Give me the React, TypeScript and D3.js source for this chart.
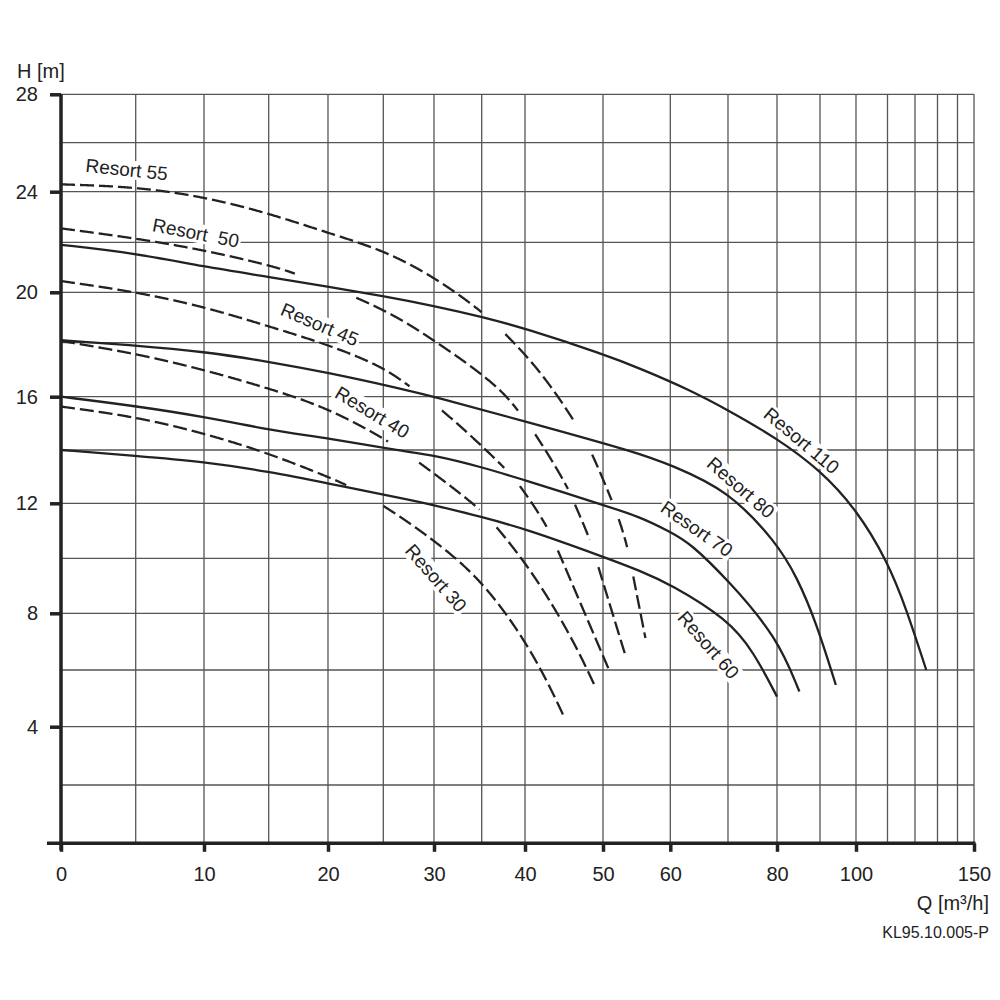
import React, { useRef, useEffect } from 'react';
import * as d3 from 'd3';

type Pt = [number, number];
type Range = [number, number];

// chart paper
const qGrid = [0, 5, 10, 15, 20, 25, 30, 35, 40, 50, 60, 70, 80, 90, 100, 110, 120, 130, 140, 150];
const qTicks = [0, 10, 20, 30, 40, 50, 60, 80, 100, 150];
const hGrid = [0, 2, 4, 6, 8, 10, 12, 14, 16, 18, 20, 22, 24, 26, 28];
const hTicks = [4, 8, 12, 16, 20, 24, 28];

// solid curves [Q m3/h, H m]
const resort110: Pt[] = [[0, 21.9], [5, 21.56], [10, 21.02], [15, 20.62], [20, 20.22], [25, 19.85], [30, 19.46], [35, 19.03], [40, 18.57], [50, 17.58], [55.5, 17.05], [63.4, 16.25], [70, 15.5], [80, 14.44], [90, 13.25], [100, 11.8], [110, 9.9], [117, 8.12], [125, 6.0]];
const resort80: Pt[] = [[0, 18.1], [5, 17.9], [10, 17.67], [15, 17.3], [20, 16.89], [26.6, 16.31], [30, 16.0], [39.4, 15.13], [55.5, 13.88], [60, 13.44], [70, 12.5], [80, 10.55], [84.6, 9.33], [89.2, 7.65], [94.4, 5.47]];
const resort70: Pt[] = [[0, 16.0], [5, 15.65], [10, 15.25], [15, 14.75], [20, 14.44], [26.6, 13.97], [30, 13.81], [35, 13.36], [40, 12.87], [50, 11.94], [55.5, 11.51], [60, 10.96], [63.4, 10.56], [70, 9.21], [80, 7.17], [85.2, 5.24]];
const resort60: Pt[] = [[0, 14.0], [5, 13.78], [10, 13.56], [15, 13.19], [20, 12.75], [26.6, 12.2], [30, 11.94], [35, 11.5], [40, 11.08], [50, 10.06], [55.5, 9.55], [60, 9.06], [70, 7.78], [75.2, 6.65], [80, 5.06]];

// dashed curves, with the Q ranges where the dashes are drawn (broken where they cross solid curves)
const resort55: Pt[] = [[0, 24.3], [5, 24.2], [10, 23.8], [15, 23.15], [20, 22.37], [25, 21.69], [30, 20.62], [35, 19.26], [37.7, 18.37], [41.9, 16.99], [46.5, 15.04], [48.6, 13.89], [51.3, 12.12], [52.3, 11.47], [53.6, 10.48], [54.5, 9.33], [56.3, 7.13]];
const resort55Visible: Range[] = [[0, 35], [37.7, 46.5], [48.6, 51.3], [52.3, 53.6], [54.5, 56.3]];
const resort50: Pt[] = [[0, 22.55], [5, 22.16], [10, 21.69], [15, 21.09], [17.25, 20.76], [22.5, 19.83], [26.65, 18.97], [29.93, 18.1], [33.5, 17.24], [37.3, 16.24], [39.2, 15.48], [41.3, 14.64], [45.5, 12.62], [46.4, 11.94], [48.3, 10.74], [49.4, 9.68], [53.4, 6.46]];
const resort50Visible: Range[] = [[0, 17.25], [22.5, 39.2], [41.3, 45.5], [46.4, 48.3], [49.4, 53.4]];
const resort45: Pt[] = [[0, 20.45], [5, 20.02], [10, 19.43], [15, 18.65], [20, 17.93], [25, 17.11], [27.6, 16.37], [30.8, 15.56], [37.6, 13.37], [39.4, 12.69], [42.8, 11.21], [44.2, 10.3], [50.9, 6.0]];
const resort45Visible: Range[] = [[0, 27.6], [30.8, 37.6], [39.4, 42.8], [44.2, 50.9]];
const resort40: Pt[] = [[0, 18.07], [5, 17.6], [10, 17.0], [15, 16.31], [20, 15.58], [25.5, 14.35], [28.5, 13.55], [34.8, 11.83], [36.7, 11.15], [39.8, 9.94], [43.2, 8.48], [46.6, 6.82], [49.0, 5.41]];
const resort40Visible: Range[] = [[0, 25.5], [28.5, 34.8], [36.7, 49.0]];
const resort30: Pt[] = [[0, 15.63], [5, 15.25], [10, 14.63], [15, 13.88], [20, 12.99], [21.7, 12.69], [25, 11.94], [30, 10.67], [35, 9.22], [40, 7.06], [43.2, 5.41], [44.9, 4.41]];
const resort30Visible: Range[] = [[0, 21.7], [25, 44.9]];

const solidCurves = [resort110, resort80, resort70, resort60];
const dashedCurves = [
  { points: resort55, visible: resort55Visible },
  { points: resort50, visible: resort50Visible },
  { points: resort45, visible: resort45Visible },
  { points: resort40, visible: resort40Visible },
  { points: resort30, visible: resort30Visible },
];

// curve names and where they sit (in Q, H)
const curveLabels = [
  { text: 'Resort 55', q: 4.4, h: 24.9 },
  { text: 'Resort  50', q: 9.4, h: 22.37 },
  { text: 'Resort 45', q: 19.3, h: 18.72 },
  { text: 'Resort 40', q: 24.0, h: 15.41 },
  { text: 'Resort 30', q: 30.2, h: 9.28 },
  { text: 'Resort 110', q: 85.7, h: 14.35 },
  { text: 'Resort 80', q: 72.6, h: 12.59 },
  { text: 'Resort 70', q: 64.6, h: 11.07 },
  { text: 'Resort 60', q: 66.6, h: 6.88 },
];

const FONT = "'Liberation Sans', Arial, sans-serif";
const INK = '#222';

// the paper is non-linear: pixel positions of the grid lines, measured
const qPaper = [61, 135.7, 204, 268.7, 328, 383.3, 434, 481.7, 525, 603, 670.3, 728, 777, 820, 856, 887.5, 915, 937.5, 957.5, 974];
const hPaper = [843.3, 785, 726.7, 670, 613.3, 558.3, 503.3, 450, 396.7, 342.7, 292.3, 242.3, 191.7, 142.7, 94.3];
const labelAngle: Record<string, number> = {
  'Resort 55': 6, 'Resort  50': 11, 'Resort 45': 23, 'Resort 40': 31, 'Resort 30': 49,
  'Resort 110': 40, 'Resort 80': 41, 'Resort 70': 35, 'Resort 60': 49,
};

const PumpChart: React.FC = () => {
  const svgRef = useRef<SVGSVGElement | null>(null);

  useEffect(() => {
    if (!svgRef.current) return;
    const svg = d3.select(svgRef.current);
    svg.selectAll('*').remove();

    const x = d3.scaleLinear().domain(qGrid).range(qPaper);
    const y = d3.scaleLinear().domain(hGrid).range(hPaper);
    const left = x(0), right = x(150), bottom = y(0), top = y(28);

    // grid
    const grid = svg.append('g').attr('stroke', '#555').attr('stroke-width', 1.3);
    grid.selectAll('.vx').data(qGrid).join('line').attr('class', 'vx')
      .attr('x1', d => x(d)).attr('x2', d => x(d)).attr('y1', top).attr('y2', bottom);
    grid.selectAll('.hy').data(hGrid).join('line').attr('class', 'hy')
      .attr('x1', left).attr('x2', right).attr('y1', d => y(d)).attr('y2', d => y(d));

    // curve labels, on a white patch that hides the grid
    const labelG = svg.append('g');
    curveLabels.forEach(l => {
      const g = labelG.append('g')
        .attr('transform', `translate(${x(l.q)},${y(l.h)}) rotate(${labelAngle[l.text]})`);
      const t = g.append('text')
        .attr('text-anchor', 'middle')
        .attr('dominant-baseline', 'central')
        .attr('font-family', FONT)
        .attr('font-size', 19)
        .attr('fill', INK)
        .style('white-space', 'pre')
        .text(l.text);
      const b = (t.node() as SVGTextElement).getBBox();
      g.insert('rect', 'text')
        .attr('x', b.x - 2).attr('y', b.y + 1)
        .attr('width', b.width + 4).attr('height', b.height - 2)
        .attr('fill', '#fff');
    });

    // basis smooths out the reading noise of the hand-read points
    const line = d3.line<Pt>().x(d => x(d[0])).y(d => y(d[1])).curve(d3.curveBasis);

    // dashed curves: sample the smooth path, keep the visible pieces
    dashedCurves.forEach(c => {
      const tmp = svg.append('path').attr('d', line(c.points)).attr('fill', 'none');
      const node = tmp.node() as SVGPathElement;
      const len = node.getTotalLength();
      const samples: Pt[] = d3.range(0, len, 0.75).map(l => {
        const p = node.getPointAtLength(l);
        return [p.x, p.y] as Pt;
      });
      const end = node.getPointAtLength(len);
      samples.push([end.x, end.y]);
      tmp.remove();
      c.visible.forEach(([q0, q1]) => {
        const a = x(q0) - 0.01, b = x(q1) + 0.01;
        const seg = samples.filter(p => p[0] >= a && p[0] <= b);
        svg.append('path')
          .attr('d', d3.line()(seg as [number, number][]))
          .attr('fill', 'none')
          .attr('stroke', INK)
          .attr('stroke-width', 2.3)
          .attr('stroke-dasharray', '14,5');
      });
    });

    solidCurves.forEach(c => {
      svg.append('path')
        .attr('d', line(c))
        .attr('fill', 'none')
        .attr('stroke', INK)
        .attr('stroke-width', 2.3);
    });

    // axes
    const yAxis = d3.axisLeft(y).tickValues(hTicks).tickSize(11).tickPadding(12).tickFormat(d3.format('d'));
    svg.append('g').attr('transform', `translate(${left},0)`).call(yAxis)
      .call(g => {
        g.select('.domain').remove();
        g.selectAll('line').attr('stroke', INK).attr('stroke-width', 3.5);
        g.selectAll('text').attr('font-size', 20).attr('font-family', FONT).attr('fill', INK);
      });
    const xAxis = d3.axisBottom(x).tickValues(qTicks).tickSize(8.5).tickPadding(15).tickFormat(d3.format('d'));
    svg.append('g').attr('transform', `translate(0,${bottom})`).call(xAxis)
      .call(g => {
        g.select('.domain').remove();
        g.selectAll('line').attr('stroke', INK).attr('stroke-width', 3.5);
        g.selectAll('text').attr('font-size', 20).attr('font-family', FONT).attr('fill', INK);
      });

    svg.append('line')
      .attr('x1', left).attr('x2', left).attr('y1', top).attr('y2', bottom + 7)
      .attr('stroke', INK).attr('stroke-width', 3.5);
    svg.append('line')
      .attr('x1', left - 14).attr('x2', right + 1.5).attr('y1', bottom).attr('y2', bottom)
      .attr('stroke', INK).attr('stroke-width', 3.5);

    // titles
    svg.append('text').attr('x', 17).attr('y', 78)
      .attr('font-family', FONT).attr('font-size', 20).attr('fill', INK).text('H [m]');
    svg.append('text').attr('x', 989).attr('y', 910).attr('text-anchor', 'end')
      .attr('font-family', FONT).attr('font-size', 20).attr('fill', INK).text('Q [m³/h]');
    svg.append('text').attr('x', 989).attr('y', 938).attr('text-anchor', 'end')
      .attr('font-family', FONT).attr('font-size', 16).attr('fill', INK).text('KL95.10.005-P');
  }, []);

  return (
    <svg
      ref={svgRef}
      width={1000}
      height={1000}
      style={{ position: 'absolute', left: 0, top: 0, background: '#fff' }}
    />
  );
};

export default function App() {
  return <PumpChart />;
}
